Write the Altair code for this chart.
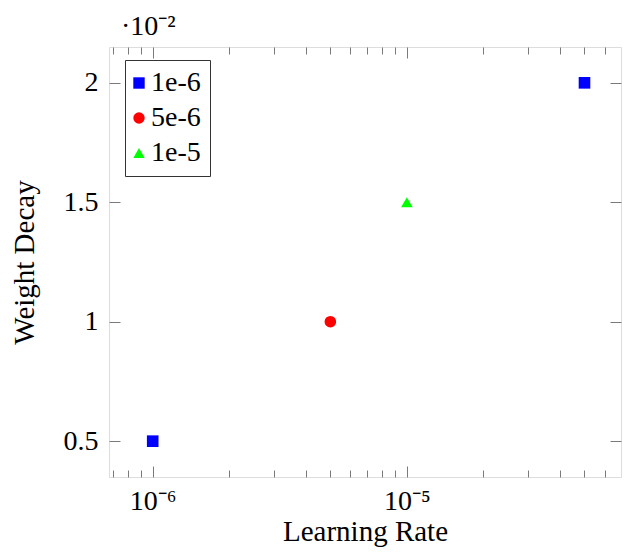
import altair as alt
import pandas as pd

# ---- data ----
series = ["1e-6", "1e-6", "5e-6", "1e-5"]
learning_rate = [1e-6, 5e-5, 5e-6, 1e-5]
weight_decay = [0.005, 0.02, 0.01, 0.015]

categories = ["1e-6", "5e-6", "1e-5"]
colors = ["#0000ff", "#ff0000", "#00ff00"]
shapes = ["square", "circle", "triangle-up"]

x_major = [1e-6, 1e-5]
x_minor = [7e-7, 8e-7, 9e-7,
           2e-6, 3e-6, 4e-6, 5e-6, 6e-6, 7e-6, 8e-6, 9e-6,
           2e-5, 3e-5, 4e-5, 5e-5, 6e-5]
y_ticks = [0.005, 0.01, 0.015, 0.02]
x_domain = [6.73e-7, 6.96e-5]
y_domain = [0.0035, 0.0215]

W, H = 512, 430
FONT = "Liberation Serif"
TICK = "#7a7a7a"

df = pd.DataFrame({"series": series, "lr": learning_rate, "wd": weight_decay})

x_scale = alt.Scale(type="log", domain=x_domain, nice=False)
y_scale = alt.Scale(domain=y_domain, nice=False, zero=False)

base = alt.Chart(df)

legend = alt.Legend(
    title=None, orient="none", legendX=16, legendY=13,
    strokeColor="#333333", fillColor="white", padding=9, rowPadding=7,
    labelFont=FONT, labelFontSize=28, labelColor="black",
    symbolOffset={"expr": "-9"}, labelOffset={"expr": "-2"},
    symbolSize=130, symbolStrokeWidth=0, cornerRadius=0,
)

main = base.mark_point(filled=True, opacity=1, size=135).encode(
    x=alt.X("lr:Q", scale=x_scale, axis=alt.Axis(
        orient="bottom", values=x_major,
        labelExpr="datum.value < 5e-6 ? '10⁻⁶' : '10⁻⁵'",
        ticks=False, tickSize=0, domain=False, grid=False,
        labelFont=FONT, labelFontSize=28, labelColor="black", labelPadding=10,
        title="Learning Rate", titleFont=FONT, titleFontSize=29,
        titleFontWeight="normal", titleColor="black", titlePadding=2)),
    y=alt.Y("wd:Q", scale=y_scale, axis=alt.Axis(
        orient="left", values=y_ticks,
        labelExpr="format(datum.value * 100, '~g')",
        ticks=False, tickSize=0, domain=False, grid=False,
        labelFont=FONT, labelFontSize=28, labelColor="black", labelPadding=11,
        title="Weight Decay", titleFont=FONT, titleFontSize=29,
        titleFontWeight="normal", titleColor="black", titlePadding=24)),
    color=alt.Color("series:N", scale=alt.Scale(domain=categories, range=colors), legend=legend),
    shape=alt.Shape("series:N", scale=alt.Scale(domain=categories, range=shapes), legend=legend),
)


def tick_axis(orient, offset, values, size):
    return alt.Axis(orient=orient, offset=offset, values=values, labels=False,
                    domain=False, grid=False, ticks=True, tickSize=size,
                    tickColor=TICK, tickWidth=1, title=None)


def tick_layer(xaxis, yaxis):
    return base.mark_point(opacity=0).encode(
        x=alt.X("lr:Q", scale=x_scale, axis=xaxis),
        y=alt.Y("wd:Q", scale=y_scale, axis=yaxis),
    )


layers = [
    main,
    # inward ticks at the bottom edge and left edge
    tick_layer(tick_axis("top", -H, x_major, 11), tick_axis("right", -W, y_ticks, 11)),
    tick_layer(tick_axis("top", -H, x_minor, 7), tick_axis("left", -W, y_ticks, 11)),
    # inward ticks at the top edge
    tick_layer(tick_axis("bottom", -H, x_major, 11), None),
    tick_layer(tick_axis("bottom", -H, x_minor, 7), None),
]

chart = alt.layer(*layers).resolve_axis(x="independent", y="independent").properties(
    width=W, height=H,
    title=alt.TitleParams("·10⁻²", anchor="start", frame="group", dx=12, offset=-16,
                          font=FONT, fontSize=28, fontWeight="normal", color="black",
                          baseline="alphabetic"),
    autosize=alt.AutoSizeParams(type="none"),
    padding={"left": 101, "top": 39, "right": 1, "bottom": 70},
).configure_view(stroke="#404040", strokeWidth=1.2).configure(background="white")

chart.save("out.html", embed_options={"renderer": "svg", "actions": False})
